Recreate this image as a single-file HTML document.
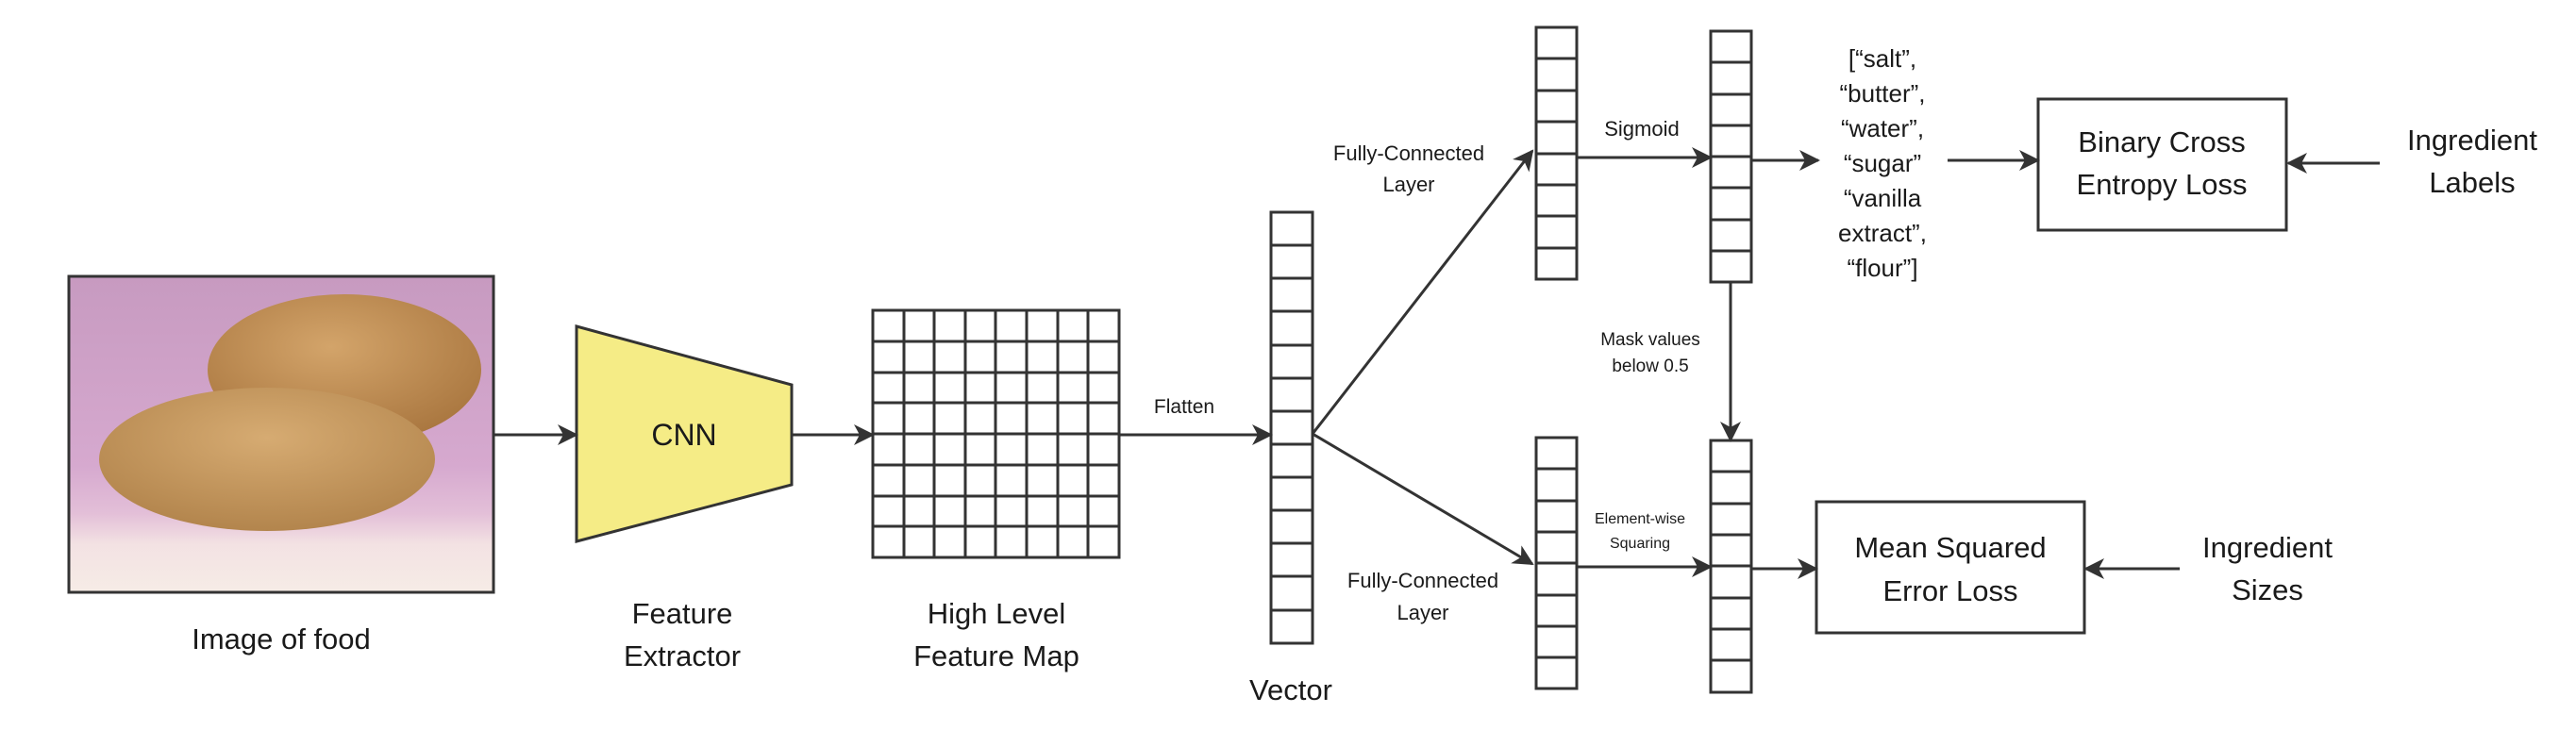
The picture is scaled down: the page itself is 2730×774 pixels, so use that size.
<!DOCTYPE html>
<html><head><meta charset="utf-8"><style>
html,body{margin:0;padding:0;background:#fff;}
svg{display:block;}
text{font-family:"Liberation Sans",sans-serif;fill:#1a1a1a;}
</style></head><body>
<svg width="2730" height="774" viewBox="0 0 2730 774" xmlns="http://www.w3.org/2000/svg">
<defs>
<marker id="a" markerUnits="userSpaceOnUse" markerWidth="24" markerHeight="24" refX="20" refY="12" orient="auto">
<path d="M0,1 L22,12 L0,23 L6,12 z" fill="#333"/>
</marker>
<linearGradient id="bg" x1="0" y1="0" x2="0" y2="1">
<stop offset="0" stop-color="#c79ac0"/><stop offset="0.6" stop-color="#d6a9cf"/><stop offset="0.75" stop-color="#e3bfd8"/><stop offset="0.85" stop-color="#f3e2e3"/><stop offset="1" stop-color="#f6ece6"/>
</linearGradient>
<radialGradient id="c1" cx="0.45" cy="0.35" r="0.7"><stop offset="0" stop-color="#d3a46a"/><stop offset="1" stop-color="#a7743d"/></radialGradient>
<radialGradient id="c2" cx="0.5" cy="0.35" r="0.7"><stop offset="0" stop-color="#d6ab72"/><stop offset="1" stop-color="#b0824a"/></radialGradient>
</defs>
<g stroke="#333" stroke-width="3" fill="none">
<!-- image -->
<rect x="73" y="293" width="450" height="335" fill="url(#bg)"/>
<ellipse cx="365" cy="392" rx="145" ry="80" fill="url(#c1)" stroke="none"/>
<ellipse cx="283" cy="487" rx="178" ry="76" fill="url(#c2)" stroke="none"/>
<rect x="73" y="293" width="450" height="335"/>
<!-- CNN -->
<polygon points="611,346 839,408 839,514 611,574" fill="#f5ec86"/>
<!-- grid -->
<rect x="925" y="329" width="261" height="262"/>
<path d="M958,329V591M990,329V591M1023,329V591M1055,329V591M1088,329V591M1121,329V591M1153,329V591M925,362H1186M925,395H1186M925,427H1186M925,460H1186M925,493H1186M925,526H1186M925,558H1186"/>
<!-- vector -->
<rect x="1347" y="225" width="44" height="457"/>
<path d="M1347,260h44M1347,295h44M1347,330h44M1347,366h44M1347,401h44M1347,436h44M1347,471h44M1347,506h44M1347,541h44M1347,576h44M1347,611h44M1347,647h44"/>
<!-- upper FC -->
<rect x="1628" y="29" width="43" height="267"/>
<path d="M1628,62h43M1628,96h43M1628,129h43M1628,163h43M1628,196h43M1628,229h43M1628,263h43"/>
<rect x="1813" y="33" width="43" height="266"/>
<path d="M1813,66h43M1813,100h43M1813,133h43M1813,166h43M1813,199h43M1813,233h43M1813,266h43"/>
<!-- lower -->
<rect x="1628" y="464" width="43" height="266"/>
<path d="M1628,497h43M1628,531h43M1628,564h43M1628,597h43M1628,631h43M1628,664h43M1628,697h43"/>
<rect x="1813" y="467" width="43" height="267"/>
<path d="M1813,500h43M1813,534h43M1813,567h43M1813,600h43M1813,634h43M1813,667h43M1813,700h43"/>
<!-- boxes -->
<rect x="2160" y="105" width="263" height="139"/>
<rect x="1925" y="532" width="284" height="139"/>
<!-- arrows -->
<g marker-end="url(#a)">
<path d="M523,461H611"/>
<path d="M839,461H925"/>
<path d="M1186,461H1347"/>
<path d="M1391,460L1624,160"/>
<path d="M1391,460L1624,598"/>
<path d="M1671,167H1813"/>
<path d="M1856,170H1927"/>
<path d="M2064,170H2160"/>
<path d="M2522,173H2425"/>
<path d="M1834,299V467"/>
<path d="M1671,601H1813"/>
<path d="M1856,603H1925"/>
<path d="M2310,603H2210"/>
</g>
</g>
<g text-anchor="middle">
<text x="725" y="472" font-size="32">CNN</text>
<text x="298" y="688" font-size="31">Image of food</text>
<text x="723" y="661" font-size="31">Feature</text>
<text x="723" y="706" font-size="31">Extractor</text>
<text x="1056" y="661" font-size="31">High Level</text>
<text x="1056" y="706" font-size="31">Feature Map</text>
<text x="1255" y="438" font-size="21">Flatten</text>
<text x="1368" y="742" font-size="31">Vector</text>
<text x="1493" y="170" font-size="22">Fully-Connected</text>
<text x="1493" y="203" font-size="22">Layer</text>
<text x="1508" y="623" font-size="22">Fully-Connected</text>
<text x="1508" y="657" font-size="22">Layer</text>
<text x="1740" y="144" font-size="22">Sigmoid</text>
<text x="1749" y="366" font-size="19">Mask values</text>
<text x="1749" y="394" font-size="19">below 0.5</text>
<text x="1738" y="555" font-size="16">Element-wise</text>
<text x="1738" y="581" font-size="16">Squaring</text>
<g font-size="26">
<text x="1995" y="71">[“salt”,</text>
<text x="1995" y="108">“butter”,</text>
<text x="1995" y="145">“water”,</text>
<text x="1995" y="182">“sugar”</text>
<text x="1995" y="219">“vanilla</text>
<text x="1995" y="256">extract”,</text>
<text x="1995" y="293">“flour”]</text>
</g>
<text x="2291" y="161" font-size="31">Binary Cross</text>
<text x="2291" y="206" font-size="31">Entropy Loss</text>
<text x="2620" y="159" font-size="31">Ingredient</text>
<text x="2620" y="204" font-size="31">Labels</text>
<text x="2067" y="591" font-size="31">Mean Squared</text>
<text x="2067" y="637" font-size="31">Error Loss</text>
<text x="2403" y="591" font-size="31">Ingredient</text>
<text x="2403" y="636" font-size="31">Sizes</text>
</g>
</svg>
</body></html>
